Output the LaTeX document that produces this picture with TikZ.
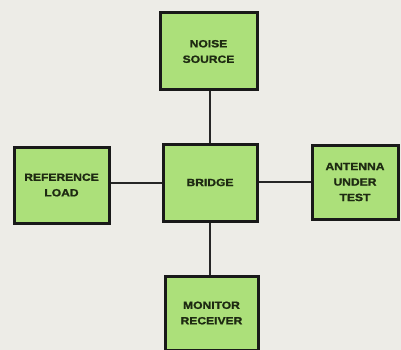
\documentclass[tikz,border=0pt]{standalone}
\usepackage{fontspec}
\setmainfont{Liberation Sans}[FakeStretch=1.15,BoldFeatures={FakeBold=1.2}]
\begin{document}
\begin{tikzpicture}[x=1pt,y=-1pt,
  blk/.style={draw=black!90,line width=3pt,fill=boxgreen,inner sep=0pt,align=center,
    font=\bfseries\fontsize{10.5}{15.5}\selectfont,text=txt},
  wire/.style={draw=black!85,line width=2.3pt}]
\definecolor{boxgreen}{HTML}{ACE07A}
\definecolor{paper}{HTML}{EDECE7}
\definecolor{txt}{HTML}{1E2A12}
\fill[paper] (0,0) rectangle (401,350);
\useasboundingbox (0,0) rectangle (401,350);
\node[blk,minimum width=97pt,minimum height=77pt] (noise) at (208.5,51.5) {NOISE\\SOURCE};
\node[blk,minimum width=94pt,minimum height=77pt] (bridge) at (210,182.5) {BRIDGE};
\node[blk,minimum width=95pt,minimum height=76pt] (ref) at (61.5,185) {REFERENCE\\LOAD};
\node[blk,minimum width=86pt,minimum height=74pt] (ant) at (355,182) {ANTENNA\\UNDER\\TEST};
\node[blk,minimum width=93pt,minimum height=74pt] (mon) at (211.5,313) {MONITOR\\RECEIVER};
\draw[wire] (bridge.north) -- (bridge.north |- noise.south);
\draw[wire] (ref.east |- 0,183) -- (bridge.west |- 0,183);
\draw[wire] (bridge.east |- 0,182) -- (ant.west |- 0,182);
\draw[wire] (bridge.south) -- (bridge.south |- mon.north);
\end{tikzpicture}
\end{document}
